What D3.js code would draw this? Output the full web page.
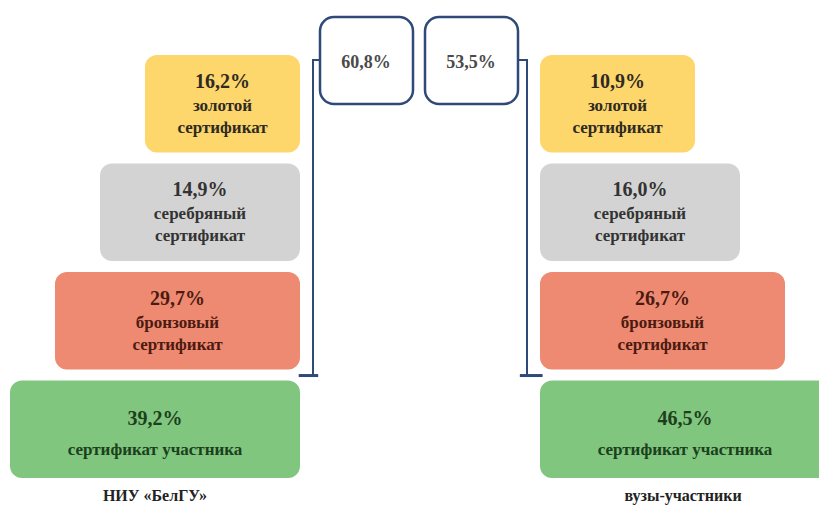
<!DOCTYPE html>
<html>
<head>
<meta charset="utf-8">
<script src="https://cdn.jsdelivr.net/npm/d3@7"></script>
<style>
  html, body { margin: 0; padding: 0; background: #fff; }
  svg { display: block; }
</style>
</head>
<body>
<div id="chart"></div>
<script>
const WIDTH = 819;
const HEIGHT = 506;
const FONT = '"Liberation Serif", "Times New Roman", Tinos, "DejaVu Serif", serif';

// data
const groups = ['НИУ «БелГУ»', 'вузы-участники'];
const levelLabels = [
    ['золотой', 'сертификат'],
    ['серебряный', 'сертификат'],
    ['бронзовый', 'сертификат'],
    ['сертификат участника']
];
const beluValues = [16.2, 14.9, 29.7, 39.2];
const vuzValues = [10.9, 16.0, 26.7, 46.5];
const prizeTotals = [60.8, 53.5];

const levelFill = ['#fdd66c', '#d3d3d3', '#ee8a72', '#80c67f'];
const levelText = ['#2e2a22', '#333333', '#4d1a10', '#1c401c'];
const LINE = '#2f4a78';

const locale = d3.formatLocale({decimal: ',', thousands: ' ', grouping: [3], currency: ['', '']});
const pct = v => locale.format('.1f')(v) + '%';

const svg = d3.select('#chart').append('svg')
    .attr('width', WIDTH)
    .attr('height', HEIGHT)
    .attr('font-family', FONT)
    .attr('font-weight', 'bold');

const y = d3.scaleBand()
    .domain(d3.range(levelLabels.length))
    .range([55, 478])
    .paddingInner(0.1);

// pyramid step widths, one per level
const w = d3.scaleLinear().domain([0, levelLabels.length - 1]).range([155, 290]);

const sides = [
    {values: beluValues, x: i => 300 - w(i), cx: 155, bracketX: 313, boxX: 320, hook: -1},
    {values: vuzValues, x: i => 540, cx: 683, bracketX: 527, boxX: 425, hook: 1}
];

sides.forEach((side, s) => {
    const g = svg.append('g').attr('class', 'side');

    const level = g.selectAll('g.level')
        .data(side.values)
        .join('g')
        .attr('class', 'level');

    level.append('rect')
        .attr('x', (d, i) => side.x(i))
        .attr('y', (d, i) => y(i))
        .attr('width', (d, i) => w(i))
        .attr('height', y.bandwidth())
        .attr('rx', 12)
        .attr('fill', (d, i) => levelFill[i]);

    level.each(function(d, i){
        const cx = side.x(i) + w(i) / 2;
        const lines = levelLabels[i];
        const top = y(i) + (lines.length > 1 ? 33 : 45);
        const t = d3.select(this).append('text')
            .attr('text-anchor', 'middle')
            .attr('fill', levelText[i]);
        t.append('tspan')
            .attr('x', cx)
            .attr('y', top)
            .attr('font-size', 20)
            .text(pct(d));
        lines.forEach((line, k) => {
            t.append('tspan')
                .attr('x', cx)
                .attr('y', top + (lines.length > 1 ? 23 : 30) + k * 22)
                .attr('font-size', 17)
                .text(line);
        });
    });

    // group caption
    g.append('text')
        .attr('x', side.cx)
        .attr('y', 501)
        .attr('text-anchor', 'middle')
        .attr('font-size', 16)
        .attr('fill', '#222')
        .text(groups[s]);

    // total box for gold+silver+bronze
    g.append('rect')
        .attr('x', side.boxX)
        .attr('y', 17)
        .attr('width', 93)
        .attr('height', 87)
        .attr('rx', 14)
        .attr('fill', '#fff')
        .attr('stroke', LINE)
        .attr('stroke-width', 2.5);

    g.append('text')
        .attr('x', side.boxX + 46)
        .attr('y', 68)
        .attr('text-anchor', 'middle')
        .attr('font-size', 18)
        .attr('fill', '#4a4a4a')
        .text(pct(prizeTotals[s]));

    // bracket
    const bx = side.bracketX;
    const yTop = 60;
    const yBot = y(2) + y.bandwidth() + 6;
    const hookEnd = side.hook < 0 ? side.boxX : side.boxX + 93;
    g.append('path')
        .attr('d', `M${hookEnd},${yTop}H${bx}V${yBot}`)
        .attr('fill', 'none')
        .attr('stroke', LINE)
        .attr('stroke-width', 2);
    g.append('line')
        .attr('x1', bx - 13 * (side.hook < 0 ? 1.1 : 0.55))
        .attr('x2', bx + 13 * (side.hook < 0 ? 0.4 : 1.2))
        .attr('y1', yBot)
        .attr('y2', yBot)
        .attr('stroke', LINE)
        .attr('stroke-width', 3);
});
</script>
</body>
</html>
